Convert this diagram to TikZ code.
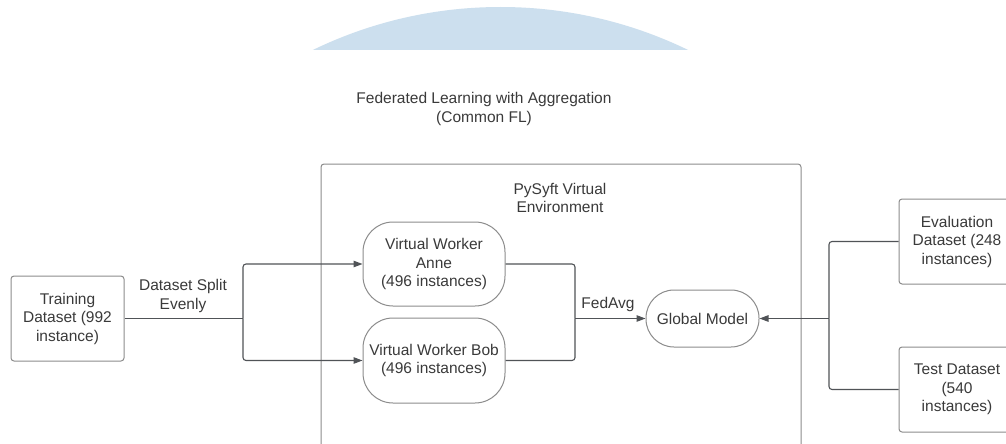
\documentclass[tikz,border=0pt]{standalone}
\usepackage{fontspec}
\setmainfont{Liberation Sans}
\usetikzlibrary{arrows.meta}

\definecolor{txt}{HTML}{3A3A3A}
\definecolor{edge}{HTML}{8C8C8C}
\definecolor{wire}{HTML}{505357}
\definecolor{capblue}{HTML}{CCDFEE}

\tikzset{
  every node/.style={font=\fontsize{15.5}{18.5}\selectfont, text=txt, align=center, inner sep=0pt},
  databox/.style={draw=edge, line width=1pt, rounded corners=3pt},
  workerbox/.style={draw=edge, line width=1pt, rounded corners=30pt},
  wireline/.style={draw=wire, line width=1.1pt, rounded corners=3pt},
  wirearrow/.style={wireline, -{Triangle[length=9pt,width=6.5pt]}},
}

\begin{document}
\begin{tikzpicture}[x=1pt, y=-1pt]
  \clip (0,0) rectangle (1006,444);
  \fill[white] (0,0) rectangle (1006,444);

  % decorative cap at the top
  \begin{scope}
    \clip (0,0) rectangle (1006,50);
    \fill[capblue] (500.5,437) circle [radius=430pt];
  \end{scope}

  % title
  \node (title) at (484,109) {Federated Learning with Aggregation\\(Common FL)};

  % environment container
  \node[databox, minimum width=480pt, minimum height=286pt] (env) at (561,307) {};
  \node (envlabel) at (560,198) {PySyft Virtual\\Environment};

  % data sources
  \node[databox, minimum width=113pt, minimum height=85pt] (train) at (67.5,318.5)
       {Training\\Dataset (992\\instance)};
  \node[databox, minimum width=116pt, minimum height=85pt] (eval) at (957,241.5)
       {Evaluation\\Dataset (248\\instances)};
  \node[databox, minimum width=116pt, minimum height=85pt] (test) at (957,389.5)
       {Test Dataset\\(540\\instances)};

  % workers and model
  \node[workerbox, minimum width=142pt, minimum height=84pt] (anne) at (434,264)
       {Virtual Worker\\Anne\\(496 instances)};
  \node[workerbox, minimum width=142pt, minimum height=85pt] (bob) at (434,360.5)
       {Virtual Worker Bob\\(496 instances)};
  \node[workerbox, rounded corners=28pt, minimum width=113pt, minimum height=57pt] (global) at (702.5,318.5)
       {Global Model};

  % junction points
  \coordinate (split) at (243,318.5);
  \coordinate (merge) at (575,318.5);
  \coordinate (collect) at (829,318.5);

  % split of the training data
  \draw[wireline] (train.east) -- (split);
  \draw[wirearrow] (split) |- (anne.west);
  \draw[wirearrow] (split) |- (bob.west);
  \node (splitlabel) at (183,296) {Dataset Split\\Evenly};

  % aggregation
  \draw[wireline] (anne.east) -| (merge);
  \draw[wireline] (bob.east) -| (merge);
  \draw[wirearrow] (merge) -- (global.west);
  \node (fedavg) at (608,304) {FedAvg};

  % evaluation and test data
  \draw[wireline] (eval.west) -| (collect);
  \draw[wireline] (test.west) -| (collect);
  \draw[wirearrow] (collect) -- (global.east);
\end{tikzpicture}
\end{document}
